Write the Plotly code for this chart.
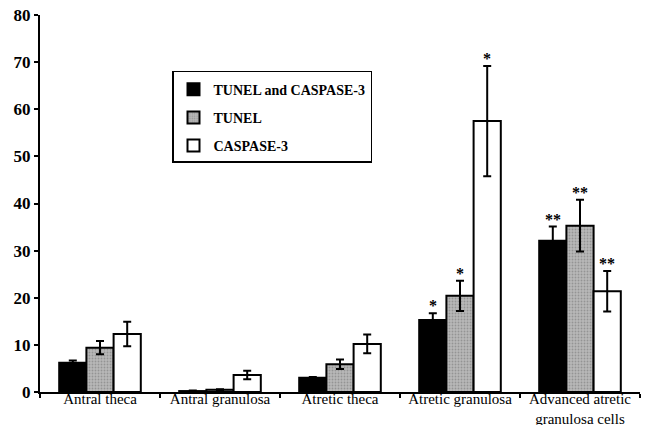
import plotly.graph_objects as go

categories = ["Antral theca", "Antral granulosa", "Atretic theca", "Atretic granulosa",
              "Advanced atretic<br>granulosa cells"]
series_names = ["TUNEL and CASPASE-3", "TUNEL", "CASPASE-3"]
both_vals = [6.2, 0.2, 3.0, 15.3, 32.1]
both_err = [0.5, 0.1, 0.2, 1.4, 3.0]
tunel_vals = [9.4, 0.5, 5.9, 20.4, 35.3]
tunel_err = [1.4, 0.1, 1.0, 3.2, 5.5]
casp_vals = [12.3, 3.6, 10.2, 57.5, 21.4]
casp_err = [2.6, 0.9, 2.0, 11.7, 4.3]
both_sig = ["", "", "", "*", "**"]
tunel_sig = ["", "", "", "*", "**"]
casp_sig = ["", "", "", "*", "**"]
y_ticks = [0, 10, 20, 30, 40, 50, 60, 70, 80]

SERIF = "Liberation Serif, Times New Roman, Times, serif"

fig = go.Figure()
styles = [
    dict(color="#000000", pattern=None),
    dict(color="#b8b8b8", pattern=dict(shape=".", fgcolor="#707070", size=3, solidity=0.3)),
    dict(color="#ffffff", pattern=None),
]
data = [(both_vals, both_err, both_sig), (tunel_vals, tunel_err, tunel_sig), (casp_vals, casp_err, casp_sig)]

for i, (name, (vals, errs, sig), st) in enumerate(zip(series_names, data, styles)):
    marker = dict(color=st["color"], line=dict(color="black", width=2))
    if st["pattern"]:
        marker["pattern"] = st["pattern"]
    fig.add_trace(go.Bar(
        x=categories, y=vals, name=name, legendgroup=f"g{i}",
        marker=marker,
        error_y=dict(type="data", array=errs, color="black", thickness=2, width=4),
    ))

offsets = [-27, 0, 27]
for j, (vals, errs, sig) in enumerate(data):
    for k, s in enumerate(sig):
        if s:
            fig.add_annotation(x=categories[k], y=vals[k] + errs[k], text=s, showarrow=False,
                               xshift=offsets[j], yanchor="bottom", yshift=-3,
                               font=dict(family=SERIF, size=16, color="black", weight="bold"))

fig.update_layout(
    width=646, height=425,
    margin=dict(l=40, r=6, t=15, b=33),
    plot_bgcolor="white", paper_bgcolor="white",
    barmode="group", bargap=0.32, bargroupgap=0,
    font=dict(family=SERIF, color="black"),
    showlegend=True,
    legend=dict(x=0.22, y=0.852, xanchor="left", yanchor="top",
                bordercolor="black", borderwidth=1.5, bgcolor="white",
                font=dict(family=SERIF, size=14, color="black", weight="bold"),
                title=dict(text=" ", font=dict(size=1)),
                traceorder="grouped", tracegroupgap=7),
)
fig.update_xaxes(showline=True, linecolor="black", linewidth=2, ticks="outside",
                 tickson="boundaries", ticklen=4, tickcolor="black", tickwidth=1.5,
                 tickfont=dict(family=SERIF, size=15, color="black"),
                 ticklabelstandoff=-8, ticklabeloverflow="allow",
                 showgrid=False, automargin=False)
fig.update_yaxes(range=[0, 80], tickvals=y_ticks, showline=True, linecolor="black", linewidth=2,
                 ticks="outside", ticklen=4, tickcolor="black", tickwidth=1.5,
                 tickfont=dict(family=SERIF, size=17, color="black", weight="bold"),
                 ticklabeloverflow="allow",
                 showgrid=False, zeroline=False, automargin=False)

fig.write_html("out.html", config={"displayModeBar": False},
               post_script="document.body.style.margin='0';document.body.style.overflow='hidden';")
